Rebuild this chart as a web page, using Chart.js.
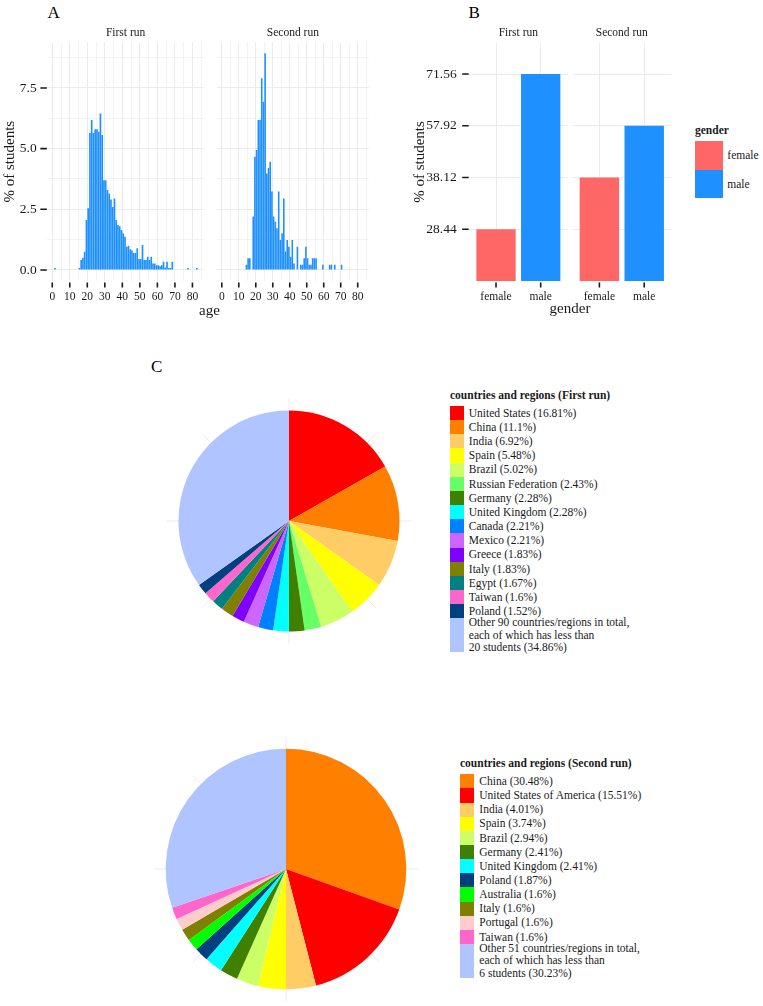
<!DOCTYPE html>
<html lang="en">
<head>
<meta charset="UTF-8">
<title>Students: age, gender and countries</title>
<script src="https://cdn.jsdelivr.net/npm/chart.js@4.4.1/dist/chart.umd.min.js"></script>
<style>
    body { margin: 0; background: #fff; font-family: 'Liberation Serif', 'Times New Roman', serif; color: #1a1a1a; }
    #page { position: relative; width: 763px; height: 1006px; overflow: hidden; }
    canvas { position: absolute; }
    .txt { position: absolute; line-height: 1; white-space: nowrap; }
    .letter { font-size: 17px; color: #000; }
    .axtitle { font-size: 15px; width: 120px; text-align: center; }
    .leg { position: absolute; font-size: 11.5px; }
    .leg .lt { font-weight: bold; height: 14px; line-height: 14px; margin-bottom: 4px; white-space: nowrap; }
    .leg .row { display: flex; align-items: center; }
    .leg .key { flex: none; align-self: stretch; }
    .leg .lab { line-height: 12.6px; white-space: nowrap; }
</style>
</head>
<body>
<div id="page">
    <div class="txt letter" style="left:47.5px; top:3.8px">A</div>
    <div class="txt letter" style="left:468.5px; top:3.8px">B</div>
    <div class="txt letter" style="left:151px; top:357.5px">C</div>

    <canvas id="ageFirst" width="210" height="305" style="left:0px; top:20px"></canvas>
    <canvas id="ageSecond" width="165" height="305" style="left:210px; top:20px"></canvas>
    <div class="txt axtitle" style="left:149.5px; top:303.4px">age</div>

    <canvas id="genderFirst" width="172" height="305" style="left:400px; top:20px"></canvas>
    <canvas id="genderSecond" width="104" height="305" style="left:572px; top:20px"></canvas>
    <div class="txt axtitle" style="left:510px; top:300.7px">gender</div>
    <div id="genderLegend" class="leg" style="left:695px; top:123px"></div>

    <canvas id="pieFirst" width="250" height="250" style="left:163.8px; top:396.2px"></canvas>
    <div id="legFirst" class="leg" style="left:450px; top:388px"></div>
    <canvas id="pieSecond" width="270" height="270" style="left:151.3px; top:733.7px"></canvas>
    <div id="legSecond" class="leg" style="left:460px; top:756.3px"></div>
</div>

<script>
    // A: % of students per 1-year age bin [age, age+1)
    const firstAges = [1, 15, 16, 17, 18, 19, 20, 21, 22, 23, 24, 25, 26, 27, 28, 29, 30, 31, 32, 33, 34,
        35, 36, 37, 38, 39, 40, 41, 42, 43, 44, 45, 46, 47, 48, 49, 50, 51, 52, 53, 54, 55, 56, 57, 58,
        59, 60, 61, 62, 63, 64, 65, 66, 67, 68, 77, 82];
    const firstPct = [0.08, 0.08, 0.41, 0.5, 0.75, 2.06, 2.54, 5.64, 6.18, 5.64, 5.8, 5.8, 5.7, 6.45, 5.56,
        3.7, 3.7, 3.3, 3.15, 2.9, 2.6, 2.95, 2.06, 1.85, 1.8, 1.65, 1.5, 1.37, 0.96, 1.0, 0.85, 0.8, 0.7,
        0.7, 0.9, 0.45, 0.45, 1.03, 0.41, 0.41, 0.55, 0.41, 0.55, 0.27, 0.27, 0.2, 0.2, 0.15, 0.2, 0.34,
        0.1, 0.34, 0.08, 0.08, 0.34, 0.08, 0.08];
    const secondAges = [14, 15, 16, 18, 19, 20, 21, 22, 23, 24, 25, 26, 27, 28, 29, 30, 31, 32, 33, 34, 35,
        36, 37, 38, 39, 40, 41, 42, 44, 46, 47, 48, 49, 50, 51, 52, 53, 54, 55, 59, 63, 64, 66, 70];
    const secondPct = [0.22, 0.48, 0.48, 2.2, 4.67, 4.94, 6.18, 6.18, 7.9, 6.93, 8.93, 3.98, 4.2, 4.46, 3.23,
        2.2, 1.99, 1.72, 3.23, 1.24, 1.51, 2.95, 0.76, 1.24, 0.96, 0.55, 1.24, 0.27, 0.96, 0.22, 0.22,
        0.48, 0.96, 0.48, 0.22, 0.22, 0.48, 0.48, 0.48, 0.22, 0.22, 0.22, 0.22, 0.22];
    const ageTicks = [0, 5, 10, 15, 20, 25, 30, 35, 40, 45, 50, 55, 60, 65, 70, 75, 80, 85];
    const pctTicks = [0, 1.25, 2.5, 3.75, 5, 6.25, 7.5, 8.75];

    // B: gender
    const genders = ['female', 'male'];
    const firstGenderPct = [28.44, 71.56];
    const secondGenderPct = [38.12, 57.92];
    const genderColors = ['#FF6666', '#1E90FF'];

    // C: countries and regions
    const firstCountries = ['United States', 'China', 'India', 'Spain', 'Brazil', 'Russian Federation',
        'Germany', 'United Kingdom', 'Canada', 'Mexico', 'Greece', 'Italy', 'Egypt', 'Taiwan', 'Poland',
        'Other 90 countries/regions in total,\neach of which has less than\n20 students'];
    const firstShare = [16.81, 11.1, 6.92, 5.48, 5.02, 2.43, 2.28, 2.28, 2.21, 2.21, 1.83, 1.83, 1.67, 1.6, 1.52, 34.86];
    const firstColors = ['#FF0000', '#FF8000', '#FFCC66', '#FFFF00', '#CCFF66', '#66FF66', '#408000', '#00FFFF',
        '#0080FF', '#CC66FF', '#8000FF', '#808000', '#008080', '#FF66CC', '#004080', '#B0C4FF'];

    const secondCountries = ['China', 'United States of America', 'India', 'Spain', 'Brazil', 'Germany',
        'United Kingdom', 'Poland', 'Australia', 'Italy', 'Portugal', 'Taiwan',
        'Other 51 countries/regions in total,\neach of which has less than\n6 students'];
    const secondShare = [30.48, 15.51, 4.01, 3.74, 2.94, 2.41, 2.41, 1.87, 1.6, 1.6, 1.6, 1.6, 30.23];
    const secondColors = ['#FF8000', '#FF0000', '#FFCC66', '#FFFF00', '#CCFF66', '#408000', '#00FFFF',
        '#004080', '#00FF00', '#808000', '#FFCCCC', '#FF66CC', '#B0C4FF'];

    Chart.defaults.font.family = "'Liberation Serif', 'Times New Roman', serif";
    Chart.defaults.font.size = 11.5;
    Chart.defaults.color = '#1a1a1a';
    Chart.defaults.animation = false;

    // ggplot-style black tick marks outside the panel, only where there is a label
    const tickMarks = {
        id: 'tickMarks',
        afterDraw(chart, args, opts) {
            const {ctx, chartArea: area, scales: {x, y}} = chart;
            ctx.save();
            ctx.strokeStyle = '#1a1a1a';
            ctx.lineWidth = 1.6;
            ctx.beginPath();
            x.ticks.forEach(t => {
                if (t.label === '') return;
                const px = x.getPixelForValue(t.value);
                ctx.moveTo(px, area.bottom + 1.5);
                ctx.lineTo(px, area.bottom + 6.5);
            });
            if (opts.y) {
                y.ticks.forEach(t => {
                    if (t.label === '') return;
                    const py = y.getPixelForValue(t.value);
                    ctx.moveTo(area.left - 7, py);
                    ctx.lineTo(area.left - 0.5, py);
                });
            }
            ctx.stroke();
            ctx.restore();
        }
    };

    // faint polar grid spokes around the pies
    const spokes = {
        id: 'spokes',
        beforeDatasetsDraw(chart) {
            const arc = chart.getDatasetMeta(0).data[0];
            if (!arc) return;
            const ctx = chart.ctx;
            ctx.save();
            ctx.strokeStyle = '#ebebeb';
            ctx.lineWidth = 1;
            ctx.beginPath();
            for (let k = 0; k < 8; k++) {
                const a = k * Math.PI / 4;
                ctx.moveTo(arc.x + Math.cos(a) * (arc.outerRadius - 2), arc.y + Math.sin(a) * (arc.outerRadius - 2));
                ctx.lineTo(arc.x + Math.cos(a) * (arc.outerRadius + 12), arc.y + Math.sin(a) * (arc.outerRadius + 12));
            }
            ctx.stroke();
            ctx.restore();
        }
    };

    const gridOpts = {
        color: '#ebebeb',
        lineWidth: c => (c.tick && c.tick.label !== '' ? 1 : 0.6),
        drawTicks: false,
        offset: false
    };

    function facetTitle(text, bottom) {
        return {
            display: true, text: text, fullSize: false, color: '#1a1a1a',
            font: {size: 11.5, weight: 'normal'}, padding: {top: 6.4, bottom: bottom}
        };
    }

    function ageChart(id, ages, pct, title, showY, pad) {
        return new Chart(document.getElementById(id), {
            type: 'bar',
            data: {
                datasets: [{
                    data: ages.map((a, i) => ({x: a + 0.5, y: pct[i]})),
                    backgroundColor: '#1E90FF',
                    borderWidth: 0,
                    barPercentage: 0.94,
                    categoryPercentage: 1
                }]
            },
            options: {
                responsive: false,
                layout: {padding: pad},
                plugins: {
                    legend: {display: false},
                    tooltip: {enabled: false},
                    title: facetTitle(title, 2.15),
                    tickMarks: {y: showY}
                },
                scales: {
                    x: {
                        type: 'linear', min: -2.8, max: 86.5, offset: false,
                        afterBuildTicks: s => { s.ticks = ageTicks.map(v => ({value: v})); },
                        afterFit: s => { s.height = 44.1; },
                        ticks: {autoSkip: false, maxRotation: 0, padding: 8.7,
                            callback: v => (v % 10 === 0 ? String(v) : '')},
                        grid: gridOpts,
                        border: {display: false}
                    },
                    y: {
                        min: -0.45, max: 9.38,
                        afterBuildTicks: s => { s.ticks = pctTicks.map(v => ({value: v})); },
                        afterFit: s => { s.width = showY ? 47.35 : 0; },
                        ticks: {display: showY, padding: 10.65, font: {size: 13.5},
                            callback: v => (v % 2.5 === 0 ? v.toFixed(1) : '')},
                        title: {display: showY, text: '% of students', font: {size: 15}, padding: {top: 1}},
                        grid: gridOpts,
                        border: {display: false}
                    }
                }
            },
            plugins: [tickMarks]
        });
    }

    // B: the y axis is discrete, one level per distinct percentage
    const pctLevels = firstGenderPct.concat(secondGenderPct).sort((a, b) => a - b);

    function genderChart(id, pct, title, showY, pad) {
        return new Chart(document.getElementById(id), {
            type: 'bar',
            data: {
                datasets: [{
                    data: pct.map((v, i) => ({x: i + 1, y: pctLevels.indexOf(v) + 1})),
                    backgroundColor: genderColors,
                    borderWidth: 0,
                    barPercentage: 0.88,
                    categoryPercentage: 1
                }]
            },
            options: {
                responsive: false,
                layout: {padding: pad},
                plugins: {
                    legend: {display: false},
                    tooltip: {enabled: false},
                    title: facetTitle(title, 2.8),
                    tickMarks: {y: showY}
                },
                scales: {
                    x: {
                        type: 'linear', min: 0.4, max: 2.6, offset: false,
                        afterBuildTicks: s => { s.ticks = genders.map((g, i) => ({value: i + 1})); },
                        afterFit: s => { s.height = 44; },
                        ticks: {autoSkip: false, maxRotation: 0, padding: 8.8,
                            callback: v => genders[v - 1]},
                        grid: gridOpts,
                        border: {display: false}
                    },
                    y: {
                        min: 0, max: 4.6,
                        afterBuildTicks: s => { s.ticks = pctLevels.map((p, i) => ({value: i + 1})); },
                        afterFit: s => { s.width = showY ? 69.2 : 0; },
                        ticks: {display: showY, padding: 12.5, font: {size: 13.5},
                            callback: v => pctLevels[v - 1].toFixed(2)},
                        title: {display: showY, text: '% of students', font: {size: 15}, padding: {top: 11}},
                        grid: gridOpts,
                        border: {display: false}
                    }
                }
            },
            plugins: [tickMarks]
        });
    }

    function pieChart(id, names, share, colors, radius) {
        return new Chart(document.getElementById(id), {
            type: 'pie',
            data: {
                labels: names,
                datasets: [{
                    data: share,
                    backgroundColor: colors,
                    borderWidth: 0,
                    hoverOffset: 0,
                    radius: radius
                }]
            },
            options: {
                responsive: false,
                layout: {padding: 0},
                plugins: {legend: {display: false}, tooltip: {enabled: false}}
            },
            plugins: [spokes]
        });
    }

    function fillLegend(id, title, names, share, colors, keyW, rowH, gap) {
        let html = '<div class="lt">' + title + '</div>';
        names.forEach((name, i) => {
            const text = share ? name + ' (' + share[i] + '%)' : name;
            const lines = text.split('\n');
            const h = lines.length > 1 ? lines.length * 11.2 : rowH;
            html += '<div class="row" style="height:' + h + 'px">' +
                '<span class="key" style="width:' + keyW + 'px;background:' + colors[i] + '"></span>' +
                '<span class="lab" style="margin-left:' + gap + 'px">' + lines.join('<br>') + '</span></div>';
        });
        document.getElementById(id).innerHTML = html;
    }

    ageChart('ageFirst', firstAges, firstPct, 'First run', true, {left: 0, right: 4.9, top: 0, bottom: 0});
    ageChart('ageSecond', secondAges, secondPct, 'Second run', false, {left: 2.75, right: 4.5, top: 0, bottom: 0});

    genderChart('genderFirst', firstGenderPct, 'First run', true, {left: 0, right: 4.5, top: 0, bottom: 0});
    genderChart('genderSecond', secondGenderPct, 'Second run', false, {left: 0.5, right: 4.9, top: 0, bottom: 0});
    fillLegend('genderLegend', 'gender', genders, null, genderColors, 28.3, 28.65, 4);

    pieChart('pieFirst', firstCountries, firstShare, firstColors, 110.5);
    pieChart('pieSecond', secondCountries, secondShare, secondColors, 120.3);
    fillLegend('legFirst', 'countries and regions (First run)', firstCountries, firstShare, firstColors, 14.3, 14.16, 4.5);
    fillLegend('legSecond', 'countries and regions (Second run)', secondCountries, secondShare, secondColors, 14.3, 14.15, 5);
</script>
</body>
</html>
